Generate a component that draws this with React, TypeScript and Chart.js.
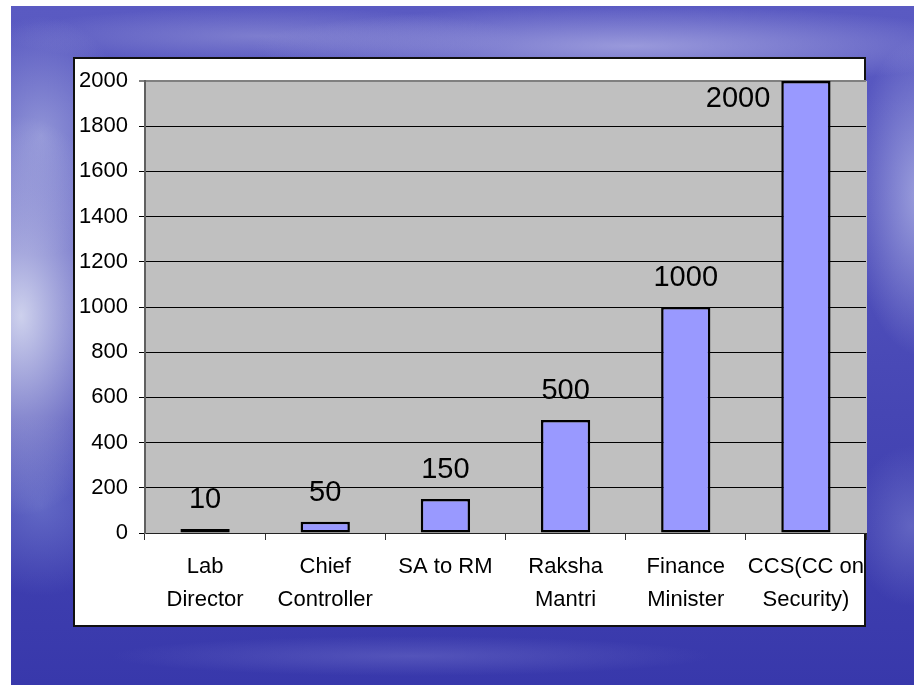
import React, { useEffect, useRef } from "react";
import { Chart, registerables } from "chart.js";

Chart.register(...registerables);

const categories: string[][] = [
  ["Lab", "Director"],
  ["Chief", "Controller"],
  ["SA to RM"],
  ["Raksha", "Mantri"],
  ["Finance", "Minister"],
  ["CCS(CC on", "Security)"],
];
const values: number[] = [10, 50, 150, 500, 1000, 2000];
const yMin = 0;
const yMax = 2000;
const yStep = 200;

const FONT = "'Liberation Sans', Arial, sans-serif";

const plotBgPlugin = {
  id: "plotBg",
  beforeDraw(chart: any) {
    const { ctx, chartArea } = chart;
    if (!chartArea) return;
    ctx.save();
    ctx.fillStyle = "#c0c0c0";
    ctx.fillRect(chartArea.left, chartArea.top, chartArea.right - chartArea.left + 1, chartArea.bottom - chartArea.top);
    ctx.restore();
  },
};

const valueLabelPlugin = {
  id: "valueLabels",
  afterDatasetsDraw(chart: any) {
    const { ctx, chartArea } = chart;
    const meta = chart.getDatasetMeta(0);
    const data = chart.data.datasets[0].data as number[];
    ctx.save();
    ctx.font = `29px ${FONT}`;
    ctx.fillStyle = "#000";
    ctx.textBaseline = "alphabetic";
    meta.data.forEach((bar: any, i: number) => {
      const text = String(data[i]);
      const baseline = bar.y - 21;
      const capTop = baseline - 21;
      if (capTop < chartArea.top) {
        ctx.textAlign = "right";
        ctx.fillText(text, bar.x - bar.width / 2 - 11, bar.y + 26);
      } else {
        ctx.textAlign = "center";
        ctx.fillText(text, bar.x, baseline);
      }
    });
    ctx.restore();
  },
};

export default function App() {
  const canvasRef = useRef<HTMLCanvasElement | null>(null);

  useEffect(() => {
    if (!canvasRef.current) return;
    const chart = new Chart(canvasRef.current, {
      type: "bar",
      data: {
        labels: categories,
        datasets: [
          {
            data: values,
            backgroundColor: "#9999ff",
            borderColor: "#000000",
            borderWidth: 2.5,
            borderSkipped: false,
            minBarLength: 4,
            barPercentage: 0.41,
            categoryPercentage: 1,
          },
        ],
      },
      options: {
        responsive: false,
        animation: false,
        devicePixelRatio: 1,
        layout: { padding: { left: 74, right: 48, top: 81, bottom: 58 } },
        plugins: {
          legend: { display: false },
          tooltip: { enabled: false },
          title: { display: false },
        },
        scales: {
          x: {
            offset: true,
            afterFit(scale: any) {
              scale.height = 94;
            },
            grid: {
              drawOnChartArea: false,
              drawTicks: true,
              tickLength: 7,
              color: "#333333",
              lineWidth: 1,
            },
            border: { display: true, color: "#222222", width: 1 },
            ticks: {
              color: "#000",
              padding: 10,
              maxRotation: 0,
              autoSkip: false,
              font: { family: FONT, size: 22, lineHeight: 1.5 },
            },
          },
          y: {
            min: yMin,
            max: yMax,
            afterFit(scale: any) {
              scale.width = 71;
            },
            grid: {
              drawTicks: true,
              tickLength: 6,
              color: (c: any) => (c.tick && c.tick.value === yMax ? "#808080" : "#000000"),
              lineWidth: (c: any) => (c.tick && c.tick.value === yMax ? 2 : 1),
            },
            border: { display: true, color: "#606060", width: 2 },
            ticks: {
              stepSize: yStep,
              color: "#000",
              padding: 11,
              font: { family: FONT, size: 22 },
              callback: (v: any) => String(v),
            },
          },
        },
      },
      plugins: [plotBgPlugin, valueLabelPlugin],
    });
    return () => chart.destroy();
  }, []);

  const slideBg = [
    "radial-gradient(ellipse 110px 200px at 10px 310px, rgba(228,232,246,0.85), rgba(228,232,246,0) 100%)",
    "radial-gradient(ellipse 90px 120px at 30px 130px, rgba(170,175,225,0.7), rgba(170,175,225,0) 100%)",
    "radial-gradient(ellipse 90px 90px at 30px 500px, rgba(120,130,210,0.6), rgba(120,130,210,0) 100%)",
    "radial-gradient(ellipse 380px 40px at 620px 40px, rgba(175,175,228,0.75), rgba(175,175,228,0) 100%)",
    "radial-gradient(ellipse 260px 28px at 250px 30px, rgba(150,150,215,0.6), rgba(150,150,215,0) 100%)",
    "radial-gradient(ellipse 70px 160px at 910px 190px, rgba(195,200,238,0.65), rgba(195,200,238,0) 100%)",
    "radial-gradient(ellipse 60px 80px at 900px 520px, rgba(130,135,210,0.5), rgba(130,135,210,0) 100%)",
    "radial-gradient(ellipse 300px 20px at 400px 650px, rgba(110,110,200,0.5), rgba(110,110,200,0) 100%)",
    "linear-gradient(180deg, #5a5ac2 0%, #5353bd 30%, #4646b4 60%, #3838ab 100%)",
  ].join(", ");

  return (
    <div style={{ position: "fixed", left: 0, top: 0, width: 914, height: 685, background: "#ffffff", overflow: "hidden" }}>
      <div style={{ position: "absolute", left: 11, top: 6, width: 903, height: 679, background: slideBg }} />
      <div
        style={{
          position: "absolute",
          left: 73,
          top: 57,
          width: 789,
          height: 566,
          background: "#ffffff",
          border: "2px solid #111111",
        }}
      />
      <canvas
        ref={canvasRef}
        width={914}
        height={685}
        style={{ position: "absolute", left: 0, top: 0, width: 914, height: 685 }}
      />
    </div>
  );
}
